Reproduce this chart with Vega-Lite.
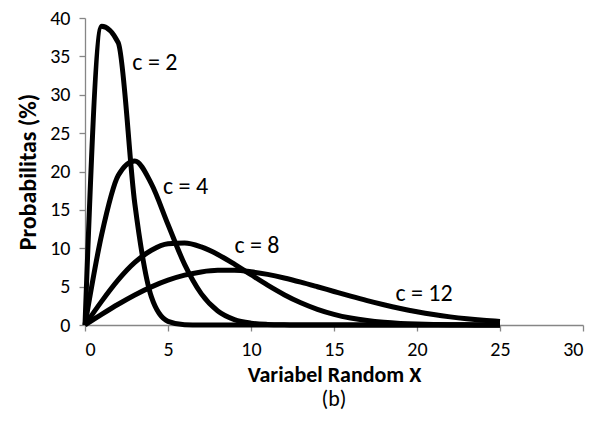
{
  "$schema": "https://vega.github.io/schema/vega-lite/v6.json",
  "width": 498,
  "height": 307,
  "autosize": {"type": "none"},
  "padding": {"left": 85, "top": 18, "right": 22, "bottom": 111},
  "background": "white",
  "config": {
    "view": {"stroke": null},
    "font": "Carlito, Open Sans, sans-serif",
    "axis": {
      "grid": false,
      "domainColor": "#868686",
      "domainWidth": 1.3,
      "tickColor": "#868686",
      "tickWidth": 1.3,
      "tickSize": 6,
      "labelColor": "#000000",
      "labelFont": "Carlito, Open Sans, sans-serif",
      "labelFontSize": 20,
      "titleFont": "Carlito, Open Sans, sans-serif",
      "titleFontSize": 22,
      "titleFontWeight": "bold",
      "titleColor": "#000000"
    }
  },
  "title": {
    "text": "(b)",
    "orient": "bottom",
    "anchor": "middle",
    "fontSize": 22,
    "fontWeight": "normal",
    "font": "Carlito, Open Sans, sans-serif",
    "color": "#000000",
    "offset": 4
  },
  "datasets": {
    "curves": [
      {"c": "2", "x": 0, "y": 0}, {"c": "2", "x": 1, "y": 38.94}, {"c": "2", "x": 2, "y": 36.79}, {"c": "2", "x": 3, "y": 15.81}, {"c": "2", "x": 4, "y": 3.66}, {"c": "2", "x": 5, "y": 0.48}, {"c": "2", "x": 6, "y": 0.037}, {"c": "2", "x": 7, "y": 0.002}, {"c": "2", "x": 8, "y": 0}, {"c": "2", "x": 9, "y": 0}, {"c": "2", "x": 10, "y": 0}, {"c": "2", "x": 11, "y": 0}, {"c": "2", "x": 12, "y": 0}, {"c": "2", "x": 13, "y": 0}, {"c": "2", "x": 14, "y": 0}, {"c": "2", "x": 15, "y": 0}, {"c": "2", "x": 16, "y": 0}, {"c": "2", "x": 17, "y": 0}, {"c": "2", "x": 18, "y": 0}, {"c": "2", "x": 19, "y": 0}, {"c": "2", "x": 20, "y": 0}, {"c": "2", "x": 21, "y": 0}, {"c": "2", "x": 22, "y": 0}, {"c": "2", "x": 23, "y": 0}, {"c": "2", "x": 24, "y": 0}, {"c": "2", "x": 25, "y": 0},
      {"c": "4", "x": 0, "y": 0}, {"c": "4", "x": 1, "y": 11.74}, {"c": "4", "x": 2, "y": 19.47}, {"c": "4", "x": 3, "y": 21.37}, {"c": "4", "x": 4, "y": 18.39}, {"c": "4", "x": 5, "y": 13.1}, {"c": "4", "x": 6, "y": 7.9}, {"c": "4", "x": 7, "y": 4.09}, {"c": "4", "x": 8, "y": 1.83}, {"c": "4", "x": 9, "y": 0.712}, {"c": "4", "x": 10, "y": 0.241}, {"c": "4", "x": 11, "y": 0.072}, {"c": "4", "x": 12, "y": 0.019}, {"c": "4", "x": 13, "y": 0.004}, {"c": "4", "x": 14, "y": 0.001}, {"c": "4", "x": 15, "y": 0}, {"c": "4", "x": 16, "y": 0}, {"c": "4", "x": 17, "y": 0}, {"c": "4", "x": 18, "y": 0}, {"c": "4", "x": 19, "y": 0}, {"c": "4", "x": 20, "y": 0}, {"c": "4", "x": 21, "y": 0}, {"c": "4", "x": 22, "y": 0}, {"c": "4", "x": 23, "y": 0}, {"c": "4", "x": 24, "y": 0}, {"c": "4", "x": 25, "y": 0},
      {"c": "8", "x": 0, "y": 0}, {"c": "8", "x": 1, "y": 3.077}, {"c": "8", "x": 2, "y": 5.871}, {"c": "8", "x": 3, "y": 8.145}, {"c": "8", "x": 4, "y": 9.735}, {"c": "8", "x": 5, "y": 10.572}, {"c": "8", "x": 6, "y": 10.683}, {"c": "8", "x": 7, "y": 10.173}, {"c": "8", "x": 8, "y": 9.197}, {"c": "8", "x": 9, "y": 7.933}, {"c": "8", "x": 10, "y": 6.55}, {"c": "8", "x": 11, "y": 5.19}, {"c": "8", "x": 12, "y": 3.952}, {"c": "8", "x": 13, "y": 2.898}, {"c": "8", "x": 14, "y": 2.046}, {"c": "8", "x": 15, "y": 1.394}, {"c": "8", "x": 16, "y": 0.916}, {"c": "8", "x": 17, "y": 0.581}, {"c": "8", "x": 18, "y": 0.356}, {"c": "8", "x": 19, "y": 0.211}, {"c": "8", "x": 20, "y": 0.121}, {"c": "8", "x": 21, "y": 0.067}, {"c": "8", "x": 22, "y": 0.036}, {"c": "8", "x": 23, "y": 0.019}, {"c": "8", "x": 24, "y": 0.009}, {"c": "8", "x": 25, "y": 0.004},
      {"c": "12", "x": 0, "y": 0}, {"c": "12", "x": 1, "y": 1.379}, {"c": "12", "x": 2, "y": 2.702}, {"c": "12", "x": 3, "y": 3.914}, {"c": "12", "x": 4, "y": 4.971}, {"c": "12", "x": 5, "y": 5.838}, {"c": "12", "x": 6, "y": 6.49}, {"c": "12", "x": 7, "y": 6.918}, {"c": "12", "x": 8, "y": 7.124}, {"c": "12", "x": 9, "y": 7.122}, {"c": "12", "x": 10, "y": 6.935}, {"c": "12", "x": 11, "y": 6.594}, {"c": "12", "x": 12, "y": 6.131}, {"c": "12", "x": 13, "y": 5.584}, {"c": "12", "x": 14, "y": 4.985}, {"c": "12", "x": 15, "y": 4.367}, {"c": "12", "x": 16, "y": 3.756}, {"c": "12", "x": 17, "y": 3.173}, {"c": "12", "x": 18, "y": 2.635}, {"c": "12", "x": 19, "y": 2.151}, {"c": "12", "x": 20, "y": 1.727}, {"c": "12", "x": 21, "y": 1.364}, {"c": "12", "x": 22, "y": 1.06}, {"c": "12", "x": 23, "y": 0.811}, {"c": "12", "x": 24, "y": 0.611}, {"c": "12", "x": 25, "y": 0.453}
    ],
    "labels": [
      {"label": "c = 2", "x": 2.85, "y": 34.1},
      {"label": "c = 4", "x": 4.7, "y": 18.0},
      {"label": "c = 8", "x": 9.0, "y": 10.3},
      {"label": "c = 12", "x": 18.7, "y": 4.0}
    ]
  },
  "encoding": {
    "x": {"field": "x", "type": "quantitative", "scale": {"domain": [0, 30], "nice": false}, "axis": {"values": [0, 5, 10, 15, 20, 25, 30], "labelOverlap": false, "title": "Variabel Random X", "labelPadding": 8, "titlePadding": 5}},
    "y": {"field": "y", "type": "quantitative", "scale": {"domain": [0, 40], "nice": false}, "axis": {"values": [0, 5, 10, 15, 20, 25, 30, 35, 40], "labelOverlap": false, "title": "Probabilitas (%)", "titleFontSize": 24, "labelPadding": 9, "titlePadding": 9}}
  },
  "layer": [
    {
      "data": {"name": "curves"},
      "mark": {"type": "line", "interpolate": "monotone", "color": "#000000", "strokeWidth": 5, "strokeJoin": "round", "strokeCap": "butt"},
      "encoding": {
        "detail": {"field": "c", "type": "nominal"}
      }
    },
    {
      "data": {"name": "labels"},
      "mark": {"type": "text", "align": "left", "baseline": "middle", "fontSize": 24, "font": "Carlito, Open Sans, sans-serif", "color": "#000000"},
      "encoding": {
        "text": {"field": "label", "type": "nominal"}
      }
    }
  ]
}
